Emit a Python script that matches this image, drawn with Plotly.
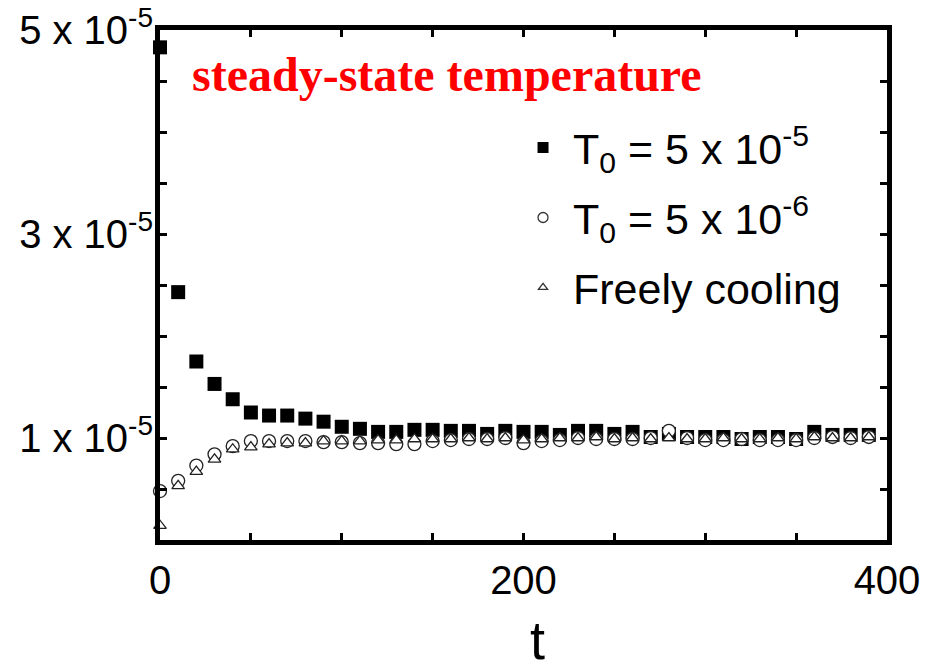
import plotly.graph_objects as go

# ---- data (values in units of 1e-5) ----
t_vals = [0, 10, 20, 30, 40, 50, 60, 70, 80, 90,
          100, 110, 120, 130, 140, 150, 160, 170, 180, 190,
          200, 210, 220, 230, 240, 250, 260, 270, 280, 290,
          300, 310, 320, 330, 340, 350, 360, 370, 380, 390]

T_hot = [4.83, 2.43, 1.75, 1.53, 1.38, 1.25, 1.22, 1.22, 1.19, 1.16,
         1.11, 1.09, 1.06, 1.06, 1.08, 1.08, 1.07, 1.07, 1.04, 1.07,
         1.06, 1.06, 1.03, 1.07, 1.07, 1.04, 1.06, 1.01, 1.04, 1.01,
         1.01, 1.01, 0.99, 1.01, 1.01, 0.99, 1.06, 1.03, 1.03, 1.03]

T_cold = [0.48, 0.58, 0.73, 0.84, 0.92, 0.97, 0.97, 0.97, 0.97, 0.96,
          0.96, 0.95, 0.95, 0.94, 0.94, 0.97, 0.98, 0.99, 0.99, 1.00,
          0.95, 0.97, 0.98, 1.00, 0.99, 0.99, 0.99, 1.00, 1.07, 1.00,
          0.98, 0.98, 0.99, 0.98, 0.98, 0.98, 1.00, 1.01, 1.00, 1.01]

T_free = [0.14, 0.53, 0.67, 0.79, 0.89, 0.91, 0.94, 0.95, 0.95, 0.97,
          0.97, 0.97, 0.98, 0.98, 0.99, 0.99, 0.99, 1.00, 0.99, 1.00,
          0.98, 0.99, 1.00, 1.00, 1.01, 0.99, 1.00, 0.99, 1.00, 0.99,
          0.99, 1.00, 0.99, 0.99, 1.00, 0.99, 1.01, 1.00, 1.00, 1.01]

series_names = ["T<sub>0</sub> = 5 x 10<sup>-5</sup>",
                "T<sub>0</sub> = 5 x 10<sup>-6</sup>",
                "Freely cooling"]

x_tickvals = [0, 50, 100, 150, 200, 250, 300, 350, 400]
x_ticktext = ["0", "", "", "", "200", "", "", "", "400"]
y_tickvals = [0.5e-5, 1e-5, 1.5e-5, 2e-5, 2.5e-5, 3e-5, 3.5e-5, 4e-5, 4.5e-5, 5e-5]
y_ticktext = ["", "1 x 10<sup>-5</sup>", "", "", "", "3 x 10<sup>-5</sup>", "", "", "", "5 x 10<sup>-5</sup>"]

title_text = "steady-state temperature"
x_title = "t"

scale = 1e-5
y_hot = [v * scale for v in T_hot]
y_cold = [v * scale for v in T_cold]
y_free = [v * scale for v in T_free]

FONT = "Liberation Sans, Arial, sans-serif"

fig = go.Figure()

# data traces (no legend)
fig.add_trace(go.Scatter(x=t_vals, y=y_hot, mode="markers", showlegend=False,
                         marker=dict(symbol="square", size=14, color="black",
                                     line=dict(width=0)), cliponaxis=False))
fig.add_trace(go.Scatter(x=t_vals, y=y_cold, mode="markers", showlegend=False,
                         marker=dict(symbol="circle", size=13, color="white",
                                     line=dict(width=1.3, color="#222")), cliponaxis=False))
fig.add_trace(go.Scatter(x=t_vals, y=y_free, mode="markers", showlegend=False,
                         marker=dict(symbol="triangle-up", size=11, color="white",
                                     line=dict(width=1.3, color="#222")), cliponaxis=False))

# legend-only traces with smaller symbols
fig.add_trace(go.Scatter(x=[None], y=[None], mode="markers", name=series_names[0],
                         legendgroup="a",
                         marker=dict(symbol="square", size=11, color="black", line=dict(width=0))))
fig.add_trace(go.Scatter(x=[None], y=[None], mode="markers", name=series_names[1],
                         legendgroup="b",
                         marker=dict(symbol="circle", size=10, color="white",
                                     line=dict(width=1.3, color="#333"))))
fig.add_trace(go.Scatter(x=[None], y=[None], mode="markers", name=series_names[2],
                         legendgroup="c",
                         marker=dict(symbol="triangle-up", size=8, color="white",
                                     line=dict(width=1.3, color="#333"))))

fig.add_annotation(text="<b>" + title_text + "</b>", xref="paper", yref="paper",
                   x=0.041, y=0.912, xanchor="left", yanchor="middle", showarrow=False,
                   font=dict(family="Liberation Serif, Times New Roman, serif", size=48, color="#ff0000"))

fig.add_annotation(text=x_title, xref="paper", yref="paper",
                   x=0.519, y=-0.196, xanchor="center", yanchor="middle", showarrow=False,
                   font=dict(family=FONT, size=54, color="black"))

fig.update_layout(
    width=920, height=656,
    margin=dict(l=152, r=41, t=22, b=124),
    paper_bgcolor="white", plot_bgcolor="white",
    font=dict(family=FONT, color="black", size=40),
    showlegend=True,
    legend=dict(x=0.4856, y=0.837, xanchor="left", yanchor="top",
                bgcolor="rgba(0,0,0,0)", borderwidth=0,
                font=dict(family=FONT, size=43, color="black"),
                tracegroupgap=11, traceorder="grouped", itemwidth=50),
)

fig.update_xaxes(range=[0, 400], showline=True, linewidth=5, linecolor="black", mirror="ticks",
                 ticks="inside", ticklen=7, tickwidth=3, tickcolor="black",
                 tickmode="array", tickvals=x_tickvals, ticktext=x_ticktext,
                 showgrid=False, zeroline=False, automargin=False,
                 tickfont=dict(family=FONT, size=40, color="black"),
                 ticklabelstandoff=1, ticklabeloverflow="allow")

fig.update_yaxes(range=[0, 5e-5], showline=True, linewidth=5, linecolor="black", mirror="ticks",
                 ticks="inside", ticklen=7, tickwidth=3, tickcolor="black",
                 tickmode="array", tickvals=y_tickvals, ticktext=y_ticktext,
                 showgrid=False, zeroline=False, automargin=False,
                 tickfont=dict(family=FONT, size=40, color="black"),
                 ticklabelstandoff=-6, ticklabeloverflow="allow")

fig.write_html("out.html")
